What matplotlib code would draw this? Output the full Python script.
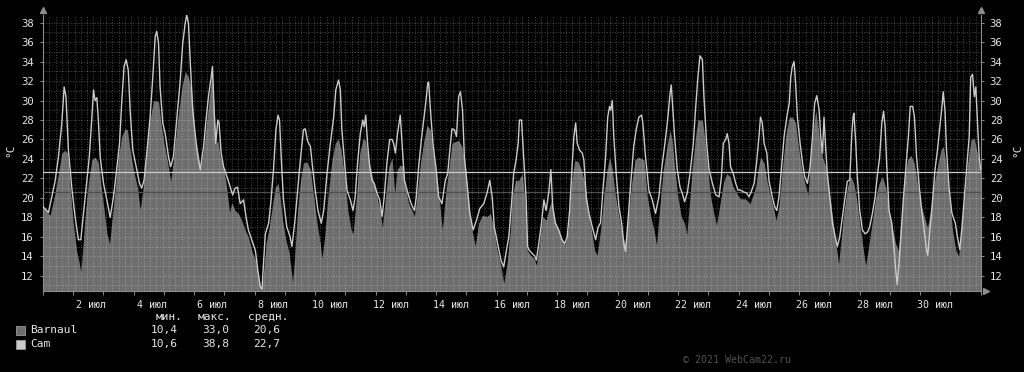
import numpy as np
import matplotlib
matplotlib.use("Agg")
import matplotlib.pyplot as plt
from matplotlib.patches import Rectangle

# ----------------- DATA -----------------
# time in days since 1 jul 00:00, temperature in deg C

cam = [
    (0.00, 19.1), (0.18, 18.5), (0.29, 20.1), (0.40, 21.7), (0.51, 24.2), (0.62, 27.6), (0.70, 31.4), (0.76, 30.4),
    (0.84, 24.9), (0.95, 21.1), (1.06, 18.1), (1.17, 15.7), (1.25, 15.7), (1.33, 18.1), (1.44, 21.5), (1.53, 24.2),
    (1.61, 28.0), (1.67, 31.1), (1.72, 30.0), (1.78, 30.3), (1.83, 28.0), (1.89, 24.2), (2.00, 21.5), (2.11, 19.8),
    (2.22, 18.0), (2.33, 20.1), (2.42, 22.5), (2.53, 25.6), (2.60, 29.7), (2.68, 33.5), (2.75, 34.2), (2.82, 33.1),
    (2.88, 29.0), (2.97, 24.9), (3.08, 23.2), (3.19, 21.5), (3.26, 21.0), (3.34, 21.8), (3.43, 24.6), (3.54, 28.3),
    (3.63, 32.4), (3.71, 36.6), (3.76, 37.1), (3.82, 35.9), (3.87, 31.4), (3.96, 27.7), (4.04, 26.6), (4.15, 24.2),
    (4.22, 23.2), (4.31, 24.2), (4.42, 28.0), (4.53, 31.8), (4.62, 35.9), (4.70, 37.9), (4.75, 38.8), (4.81, 37.9),
    (4.86, 34.5), (4.95, 29.0), (5.03, 26.6), (5.12, 24.2), (5.20, 22.9), (5.31, 25.3), (5.38, 27.7), (5.47, 30.4),
    (5.56, 32.4), (5.60, 33.5), (5.66, 29.0), (5.71, 25.6), (5.78, 28.0), (5.82, 27.7), (5.89, 24.6), (5.97, 23.2),
    (6.08, 22.2), (6.19, 21.1), (6.27, 20.3), (6.35, 21.0), (6.43, 21.1), (6.52, 19.4), (6.63, 19.8), (6.71, 18.1),
    (6.79, 16.7), (6.90, 15.7), (7.02, 14.6), (7.10, 12.6), (7.18, 10.9), (7.24, 10.6), (7.29, 13.3), (7.35, 16.3),
    (7.46, 17.4), (7.54, 19.8), (7.62, 22.9), (7.70, 27.0), (7.77, 28.5), (7.82, 28.0), (7.88, 23.9), (7.95, 19.8),
    (8.06, 17.0), (8.17, 16.0), (8.23, 15.0), (8.32, 17.4), (8.40, 20.1), (8.50, 23.6), (8.61, 27.0), (8.67, 27.1),
    (8.75, 25.8), (8.84, 25.3), (8.91, 23.2), (9.00, 20.8), (9.09, 18.7), (9.20, 17.4), (9.28, 18.7), (9.39, 22.5),
    (9.50, 25.6), (9.61, 28.3), (9.68, 31.1), (9.77, 32.1), (9.83, 31.1), (9.88, 27.0), (9.97, 23.6), (10.05, 20.8),
    (10.16, 19.8), (10.25, 18.7), (10.32, 20.1), (10.40, 23.6), (10.49, 26.6), (10.57, 28.0), (10.62, 27.3), (10.67, 28.5),
    (10.73, 25.6), (10.80, 23.2), (10.88, 21.8), (10.95, 21.5), (11.04, 20.5), (11.13, 19.8), (11.21, 18.1), (11.28, 20.1),
    (11.37, 23.6), (11.46, 26.0), (11.54, 26.0), (11.59, 25.6), (11.65, 24.6), (11.72, 26.6), (11.81, 28.5), (11.87, 25.6),
    (11.95, 21.8), (12.06, 20.5), (12.17, 19.4), (12.28, 18.7), (12.34, 20.1), (12.42, 23.2), (12.52, 26.3), (12.64, 29.4),
    (12.72, 31.8), (12.75, 31.9), (12.80, 29.4), (12.89, 25.6), (13.00, 22.9), (13.08, 20.1), (13.19, 19.4), (13.30, 21.8),
    (13.38, 22.5), (13.44, 24.6), (13.52, 27.1), (13.60, 27.0), (13.67, 26.3), (13.74, 30.4), (13.80, 30.9), (13.87, 29.0),
    (13.93, 24.2), (14.02, 21.5), (14.11, 18.4), (14.22, 16.7), (14.33, 17.7), (14.44, 18.9), (14.57, 19.4), (14.68, 20.5),
    (14.77, 21.8), (14.85, 20.1), (14.92, 17.0), (15.03, 15.3), (15.14, 13.6), (15.23, 12.9), (15.32, 14.6), (15.40, 16.0),
    (15.49, 19.4), (15.56, 22.5), (15.64, 23.9), (15.71, 25.6), (15.75, 28.0), (15.82, 28.0), (15.89, 24.2), (15.97, 20.1),
    (16.02, 15.0), (16.08, 14.6), (16.17, 14.3), (16.26, 14.0), (16.31, 13.6), (16.39, 15.3), (16.48, 17.4), (16.56, 19.8),
    (16.63, 18.7), (16.72, 20.5), (16.79, 22.9), (16.85, 19.1), (16.94, 17.4), (17.05, 16.7), (17.16, 15.7), (17.25, 15.3),
    (17.33, 16.0), (17.41, 18.7), (17.49, 23.2), (17.55, 26.3), (17.61, 27.7), (17.66, 25.6), (17.74, 24.9), (17.83, 24.6),
    (17.88, 23.9), (17.96, 20.1), (18.05, 18.4), (18.16, 17.0), (18.27, 15.7), (18.35, 17.0), (18.43, 17.4), (18.51, 20.8),
    (18.60, 24.2), (18.67, 28.3), (18.73, 29.4), (18.77, 29.0), (18.82, 30.0), (18.87, 26.3), (18.95, 22.5), (19.04, 19.1),
    (19.13, 17.4), (19.20, 15.3), (19.26, 14.5), (19.35, 18.1), (19.42, 21.1), (19.53, 25.3), (19.61, 27.0), (19.70, 28.3),
    (19.79, 28.5), (19.83, 27.7), (19.92, 24.2), (20.03, 20.8), (20.14, 19.8), (20.25, 18.4), (20.36, 20.1), (20.45, 22.9),
    (20.56, 25.6), (20.64, 27.7), (20.73, 30.7), (20.77, 31.6), (20.81, 29.7), (20.88, 26.3), (20.97, 22.9), (21.06, 21.1),
    (21.13, 20.5), (21.21, 19.6), (21.30, 20.5), (21.39, 22.5), (21.50, 25.6), (21.57, 29.0), (21.65, 32.4), (21.72, 34.6),
    (21.80, 34.2), (21.85, 30.4), (21.94, 25.6), (22.02, 22.9), (22.13, 21.5), (22.24, 20.3), (22.35, 20.1), (22.43, 22.2),
    (22.49, 25.6), (22.57, 26.0), (22.62, 26.6), (22.68, 25.6), (22.73, 23.2), (22.82, 22.5), (22.90, 21.5), (22.98, 20.8),
    (23.06, 20.8), (23.17, 20.6), (23.26, 20.5), (23.34, 20.1), (23.40, 20.5), (23.51, 21.5), (23.59, 23.6), (23.67, 26.3),
    (23.72, 28.3), (23.78, 27.7), (23.84, 25.6), (23.93, 24.6), (24.00, 21.8), (24.11, 20.1), (24.19, 19.1), (24.26, 18.7),
    (24.33, 20.1), (24.41, 22.9), (24.50, 26.3), (24.59, 28.3), (24.67, 29.7), (24.72, 32.4), (24.77, 33.5), (24.83, 34.0),
    (24.88, 31.8), (24.94, 28.3), (25.03, 25.6), (25.11, 23.6), (25.18, 22.2), (25.27, 21.5), (25.36, 23.2), (25.44, 26.3),
    (25.51, 29.7), (25.58, 30.5), (25.66, 29.0), (25.71, 26.3), (25.77, 24.6), (25.82, 28.3), (25.88, 24.9), (25.93, 22.5),
    (26.01, 20.1), (26.10, 17.4), (26.19, 16.0), (26.26, 15.0), (26.34, 16.0), (26.43, 18.1), (26.52, 20.1), (26.59, 21.7),
    (26.67, 21.8), (26.74, 26.6), (26.78, 28.3), (26.81, 28.7), (26.87, 25.6), (26.92, 22.2), (27.00, 18.7), (27.09, 16.7),
    (27.18, 16.3), (27.26, 16.5), (27.33, 17.0), (27.42, 18.4), (27.51, 20.1), (27.59, 22.5), (27.66, 24.2), (27.73, 27.7),
    (27.79, 28.9), (27.84, 27.3), (27.89, 23.6), (27.97, 18.7), (28.06, 17.4), (28.14, 14.6), (28.19, 12.6), (28.24, 11.1),
    (28.30, 13.3), (28.36, 16.0), (28.44, 19.8), (28.52, 22.9), (28.61, 26.3), (28.67, 29.4), (28.75, 29.4), (28.81, 28.3),
    (28.88, 24.2), (28.97, 21.1), (29.05, 18.7), (29.13, 16.7), (29.21, 14.6), (29.25, 14.1), (29.32, 16.7), (29.41, 19.8),
    (29.49, 22.9), (29.57, 24.9), (29.65, 27.3), (29.72, 29.4), (29.76, 30.9), (29.82, 29.0), (29.87, 24.9), (29.96, 20.8),
    (30.05, 18.4), (30.16, 17.4), (30.23, 16.0), (30.31, 14.7), (30.38, 17.0), (30.46, 20.1), (30.53, 22.9), (30.62, 26.3),
    (30.67, 32.4), (30.73, 32.7), (30.79, 30.4), (30.84, 31.4), (30.90, 27.3), (30.95, 24.2), (31.00, 22.9),
]

barnaul = [
    (0.00, 19.1), (0.23, 18.2), (0.40, 20.5), (0.51, 22.5), (0.62, 24.6), (0.73, 24.9), (0.81, 24.6), (0.89, 21.5),
    (1.00, 17.4), (1.11, 14.6), (1.20, 13.3), (1.25, 12.4), (1.31, 14.6), (1.39, 18.1), (1.50, 21.5), (1.61, 23.9),
    (1.72, 24.2), (1.83, 23.7), (1.91, 21.5), (2.02, 18.8), (2.11, 16.4), (2.20, 15.3), (2.27, 17.4), (2.38, 20.8),
    (2.49, 24.2), (2.60, 26.3), (2.71, 27.1), (2.79, 27.0), (2.88, 24.9), (2.99, 22.9), (3.12, 21.1), (3.21, 18.8),
    (3.30, 20.8), (3.41, 24.2), (3.52, 27.7), (3.65, 30.0), (3.82, 29.9), (3.89, 28.0), (4.00, 25.6), (4.11, 23.9),
    (4.22, 21.7), (4.31, 23.9), (4.45, 28.0), (4.59, 31.4), (4.70, 33.0), (4.81, 32.4), (4.92, 30.7), (5.03, 26.0),
    (5.14, 24.5), (5.21, 23.0), (5.31, 25.0), (5.38, 27.0), (5.47, 29.5), (5.56, 32.0), (5.60, 32.8), (5.66, 28.3),
    (5.72, 25.6), (5.78, 25.9), (5.86, 24.2), (5.97, 23.2), (6.08, 20.8), (6.17, 18.5), (6.24, 19.5), (6.35, 18.7),
    (6.46, 18.4), (6.57, 17.7), (6.68, 16.7), (6.79, 16.0), (6.90, 14.6), (7.02, 13.6), (7.13, 11.9), (7.22, 10.4),
    (7.29, 12.2), (7.37, 15.3), (7.48, 17.0), (7.59, 19.4), (7.68, 21.1), (7.77, 21.5), (7.84, 20.1), (7.92, 17.7),
    (8.03, 15.7), (8.14, 14.3), (8.25, 11.4), (8.32, 13.9), (8.40, 18.1), (8.50, 21.5), (8.61, 23.6), (8.72, 23.7),
    (8.84, 22.9), (8.95, 20.1), (9.06, 17.4), (9.17, 15.3), (9.22, 13.8), (9.31, 16.0), (9.42, 20.1), (9.55, 23.9),
    (9.66, 25.6), (9.75, 26.1), (9.86, 24.9), (9.97, 22.2), (10.08, 18.7), (10.19, 16.7), (10.25, 16.3), (10.36, 20.1),
    (10.47, 24.6), (10.58, 26.1), (10.66, 25.9), (10.73, 24.6), (10.82, 23.2), (10.93, 21.5), (11.04, 20.1), (11.15, 18.7),
    (11.22, 16.9), (11.32, 20.1), (11.43, 23.2), (11.54, 24.1), (11.63, 20.5), (11.71, 22.9), (11.81, 23.4), (11.90, 23.2),
    (11.98, 21.1), (12.09, 19.4), (12.20, 18.7), (12.28, 18.1), (12.36, 20.1), (12.48, 23.6), (12.59, 25.9), (12.70, 27.5),
    (12.80, 27.0), (12.92, 24.2), (13.05, 21.1), (13.14, 18.7), (13.20, 16.7), (13.30, 20.1), (13.41, 22.9), (13.52, 25.6),
    (13.63, 25.8), (13.74, 25.9), (13.85, 25.3), (13.97, 22.9), (14.08, 19.4), (14.18, 16.7), (14.29, 15.1), (14.40, 17.4),
    (14.52, 18.2), (14.68, 18.1), (14.79, 18.4), (14.90, 17.0), (15.01, 14.6), (15.12, 13.3), (15.23, 11.2), (15.34, 13.3),
    (15.45, 16.7), (15.51, 20.1), (15.62, 21.8), (15.73, 21.8), (15.84, 22.5), (15.93, 20.1), (16.01, 14.6), (16.12, 14.1),
    (16.23, 13.8), (16.31, 13.1), (16.41, 15.3), (16.52, 18.1), (16.63, 17.7), (16.74, 19.1), (16.83, 19.8), (16.92, 17.7),
    (17.03, 16.7), (17.16, 15.7), (17.27, 15.2), (17.36, 16.7), (17.47, 21.5), (17.58, 23.9), (17.69, 23.7), (17.80, 22.9),
    (17.91, 21.5), (18.02, 18.7), (18.13, 16.7), (18.24, 14.6), (18.32, 14.1), (18.43, 16.7), (18.54, 20.1), (18.65, 22.9),
    (18.73, 24.2), (18.82, 22.9), (18.93, 20.1), (19.04, 18.1), (19.15, 16.3), (19.24, 15.3), (19.35, 18.1), (19.46, 21.5),
    (19.57, 23.9), (19.68, 24.2), (19.87, 23.9), (19.98, 20.1), (20.09, 18.1), (20.20, 16.7), (20.28, 15.2), (20.38, 18.7),
    (20.50, 22.8), (20.64, 25.5), (20.73, 27.0), (20.80, 25.9), (20.88, 23.2), (20.99, 20.1), (21.10, 18.1), (21.21, 17.4),
    (21.28, 16.2), (21.35, 18.7), (21.46, 22.9), (21.57, 26.3), (21.65, 28.0), (21.80, 28.0), (21.87, 26.3), (21.96, 23.6),
    (22.07, 20.1), (22.18, 18.4), (22.27, 17.2), (22.38, 19.4), (22.49, 21.5), (22.60, 22.5), (22.71, 22.2), (22.82, 21.1),
    (22.93, 20.5), (23.06, 19.9), (23.23, 19.9), (23.37, 19.4), (23.45, 20.1), (23.56, 21.1), (23.64, 22.9), (23.72, 24.2),
    (23.84, 23.6), (23.95, 21.5), (24.06, 20.1), (24.17, 18.7), (24.23, 17.7), (24.33, 19.1), (24.44, 22.9), (24.55, 26.3),
    (24.67, 28.3), (24.77, 28.3), (24.88, 27.7), (24.99, 24.9), (25.11, 22.5), (25.22, 21.1), (25.29, 20.3), (25.38, 24.2),
    (25.47, 27.3), (25.55, 29.0), (25.66, 26.3), (25.77, 24.2), (25.88, 23.2), (25.99, 20.8), (26.10, 18.1), (26.21, 15.3),
    (26.30, 13.2), (26.37, 15.3), (26.48, 18.7), (26.59, 21.1), (26.70, 22.2), (26.81, 21.5), (26.92, 19.4), (27.03, 16.7),
    (27.15, 14.0), (27.20, 13.1), (27.31, 15.3), (27.42, 17.7), (27.53, 20.1), (27.64, 21.5), (27.75, 22.2), (27.86, 21.1),
    (27.97, 18.7), (28.08, 17.0), (28.19, 15.3), (28.28, 14.6), (28.36, 17.4), (28.47, 21.5), (28.58, 23.9), (28.69, 24.4),
    (28.80, 23.6), (28.91, 21.5), (29.02, 19.4), (29.13, 18.1), (29.24, 17.0), (29.35, 18.7), (29.46, 21.5), (29.57, 23.2),
    (29.68, 24.9), (29.76, 25.3), (29.85, 23.6), (29.96, 20.1), (30.07, 16.7), (30.18, 14.6), (30.27, 14.0), (30.35, 16.7),
    (30.46, 20.1), (30.57, 23.6), (30.68, 26.0), (30.79, 26.1), (30.89, 24.6), (31.00, 22.9),
]

names = ["Barnaul", "Cam"]
stat_min = [10.4, 10.6]
stat_max = [33.0, 38.8]
stat_avg = [20.6, 22.7]
stat_heads = ["мин.", "макс.", "средн."]

day_labels = list(range(2, 31, 2))
month = "июл"
y_ticks = list(range(12, 39, 2))

# ----------------- STYLE -----------------
W, H = 1024, 372
area_col = "#6e6e6e"
line_col = "#cacaca"
txt_col = "#e8e8e8"
axis_col = "#8c8c8c"
grid_col = (1, 1, 1, 0.27)
plt.rcParams["font.family"] = ["DejaVu Sans Mono"]

fig = plt.figure(figsize=(W / 100, H / 100), dpi=100, facecolor="black")
ax = fig.add_axes([43 / W, 1 - 291.3 / H, (980.7 - 43) / W, (291.3 - 14.9) / H], facecolor="black")

ct, cv = np.array(cam).T
bt, bv = np.array(barnaul).T

ax.fill_between(bt, 0, bv, color=area_col, lw=0, zorder=1)

# dotted grid
for y in range(11, 39):
    ax.axhline(y, color=grid_col, lw=0.75, ls=(0, (1, 1.6)), zorder=2)
for h in np.arange(5, 31 * 24, 5):
    ax.axvline(h / 24, color=grid_col, lw=0.75, ls=(0, (1, 1.6)), zorder=2)

ax.axhline(stat_avg[0], color="#4e4e4e", lw=0.9, zorder=3)
ax.axhline(stat_avg[1], color=line_col, lw=0.9, zorder=3)
ax.plot(ct, cv, color=line_col, lw=1.0, zorder=4)

ax.set_xlim(0, 31)
ax.set_ylim(10.4, 38.8)

for side in ["left", "right", "bottom"]:
    ax.spines[side].set_color(axis_col)
    ax.spines[side].set_linewidth(0.8)
ax.spines["top"].set_visible(False)

ax.set_yticks(y_ticks)
ax.tick_params(axis="y", left=True, right=True, labelleft=True, labelright=True,
               colors=axis_col, labelcolor=txt_col, length=2.5, width=0.7, labelsize=7.6, pad=4)

ax.set_xticks([d - 0.5 for d in day_labels])
ax.set_xticklabels([f"{d:>2} {month}" for d in day_labels])
ax.set_xticks(range(0, 32), minor=True)
ax.tick_params(axis="x", which="major", length=0, labelcolor=txt_col, labelsize=7.2, pad=6)
ax.tick_params(axis="x", which="minor", length=3, width=0.7, color=axis_col)

# arrow heads at axis ends
ax.plot([0, 1], [1.018, 1.018], ls="none", marker="^", ms=4, color=axis_col, transform=ax.transAxes, clip_on=False)
ax.plot([1.006], [0], ls="none", marker=">", ms=4, color=axis_col, transform=ax.transAxes, clip_on=False)

fig.text(10 / W, 1 - 150 / H, "°C", rotation=90, color=txt_col, fontsize=8, ha="center", va="center")
fig.text(1017 / W, 1 - 150 / H, "°C", rotation=90, color=txt_col, fontsize=8, ha="center", va="center")

# ----------------- LEGEND -----------------
head_x = [156, 198, 248]
for x, s in zip(head_x, stat_heads):
    fig.text(x / W, 1 - 317 / H, s, color=txt_col, fontsize=8, va="center")

rows_y = [330, 344]
swatch = [area_col, line_col]
for i, name in enumerate(names):
    y = rows_y[i]
    fig.add_artist(Rectangle((15.5 / W, 1 - (y + 4.5) / H), 9 / W, 9 / H, transform=fig.transFigure,
                             facecolor=swatch[i], edgecolor="#9a9a9a", lw=0.6))
    fig.text(30 / W, 1 - y / H, name, color=txt_col, fontsize=8, va="center")
    vals = [stat_min[i], stat_max[i], stat_avg[i]]
    for x, v in zip([178, 229, 280], vals):
        fig.text(x / W, 1 - y / H, f"{v:.1f}".replace(".", ","), color=txt_col, fontsize=8, va="center", ha="right")

fig.text(683 / W, 1 - 360 / H, "© 2021 WebCam22.ru", color="#505050", fontsize=7.2, va="center")

fig.savefig("out.png", dpi=100, facecolor="black")
